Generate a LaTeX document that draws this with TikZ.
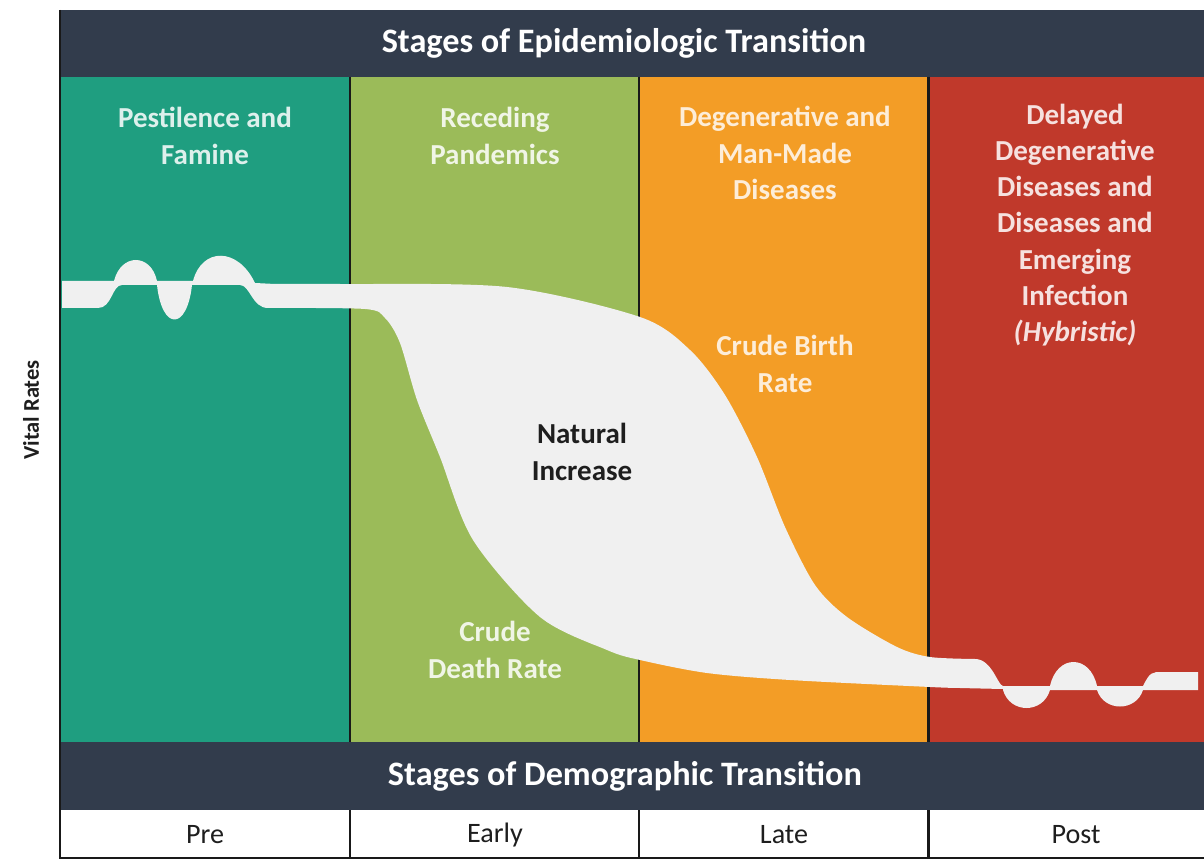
\documentclass[tikz,border=0pt]{standalone}
\usepackage{fontspec}
\setmainfont{Carlito}
\usetikzlibrary{positioning}

\definecolor{navy}{RGB}{50,60,76}
\definecolor{tealcol}{RGB}{31,158,128}
\definecolor{greencol}{RGB}{155,187,89}
\definecolor{orangecol}{RGB}{243,157,38}
\definecolor{redcol}{RGB}{192,57,43}
\definecolor{bandcol}{RGB}{240,240,240}
\definecolor{ink}{RGB}{30,30,30}

\tikzset{
  stagelabel/.style={font=\bfseries\fontsize{16.5}{21}\selectfont, align=center},
  barlabel/.style={font=\bfseries\fontsize{19.5}{24}\selectfont, text=white},
  rowlabel/.style={font=\fontsize{16}{20}\selectfont, text=ink},
  divider/.style={line width=1.7pt, draw=black!90}
}

\begin{document}
\begin{tikzpicture}[x=0.02cm, y=-0.02cm]
    \useasboundingbox[fill=white] (0,0) rectangle (1204,861);

    % Title bars
    \fill[navy] (60,10) rectangle (1204,77);
    \fill[navy] (60,742) rectangle (1204,810);

    % Stage columns
    \fill[tealcol] (60,77) rectangle (350,742);
    \fill[greencol] (350,77) rectangle (639,742);
    \fill[orangecol] (639,77) rectangle (928,742);
    \fill[redcol] (928,77) rectangle (1204,742);

    % Column dividers and frame
    \foreach \x in {350,639,928} {
        \draw[divider] (\x,77) -- (\x,742);
        \draw[divider] (\x,810) -- (\x,858);
    }
    \draw[divider] (60,10) -- (60,858) -- (1204,858);

    % Vital rates band: wiggles, birth rate on top, death rate below
    \fill[bandcol] (62,281) -- (114,281)
        .. controls (121,253) and (151,253) .. (157,281) -- (193,281)
        .. controls (202,247) and (238,247) .. (255,283)
        -- plot[smooth, tension=0.5] coordinates {
        (275,284) (340,284) (507,287) (640,317) (690,350) (725,395) (757,457)
        (785,527) (815,585) (847,617) (897,647) (930,657) (975,659)}
        .. controls (992,659) and (998,686) .. (1003,686) -- (1050,686)
        .. controls (1057,654) and (1090,654) .. (1097,686) -- (1143,686)
        .. controls (1150,672) and (1152,672) .. (1162,672) -- (1198,672)
        -- (1198,690) -- (1143,690)
        .. controls (1136,712) and (1104,712) .. (1097,690) -- (1050,690)
        .. controls (1043,714) and (1010,714) .. (1003,690)
        -- plot[smooth, tension=0.5] coordinates {
        (1003,689) (960,688) (930,687) (790,680) (707,673) (640,660) (607,650)
        (540,617) (473,540) (440,457) (417,400) (400,343) (385,318) (365,309)
        (268,308)}
        .. controls (252,308) and (250,285) .. (240,285) -- (192,285)
        .. controls (187,331) and (162,331) .. (157,285) -- (122,285)
        .. controls (112,285) and (112,308) .. (98,308) -- (62,308) -- cycle;

    % Bar titles
    \node[barlabel] (epi) at (624,43) {Stages of Epidemiologic Transition};
    \node[barlabel] (demo) at (625,776) {Stages of Demographic Transition};

    % Epidemiologic stages
    \node[stagelabel, text=white!85!tealcol] (pest) at (205,136) {Pestilence and\\Famine};
    \node[stagelabel, text=white!85!greencol] (reced) at (495,136) {Receding\\Pandemics};
    \node[stagelabel, text=white!82!orangecol] (degen) at (785,153) {Degenerative and\\Man-Made\\Diseases};
    \node[stagelabel, text=white!85!redcol, font=\bfseries\fontsize{16.5}{20.6}\selectfont] (delay) at (1075,225)
        {Delayed\\Degenerative\\Diseases and\\Diseases and\\Emerging\\Infection\\\textit{(Hybristic)}};

    % Curve labels
    \node[stagelabel, text=white!82!orangecol] (cbr) at (785,364) {Crude Birth\\Rate};
    \node[stagelabel, text=ink] (natinc) at (582,452) {Natural\\Increase};
    \node[stagelabel, text=white!85!greencol] (cdr) at (495,650) {Crude\\Death Rate};

    % Axis label
    \node[rotate=90, text=ink, font=\bfseries\fontsize{12.8}{15}\selectfont] (vital) at (31,410) {Vital Rates};

    % Demographic stages
    \node[rowlabel] (pre) at (205,835) {Pre};
    \node[rowlabel] (early) at (495,835) {Early};
    \node[rowlabel] (late) at (784,835) {Late};
    \node[rowlabel] (post) at (1076,835) {Post};
\end{tikzpicture}
\end{document}
